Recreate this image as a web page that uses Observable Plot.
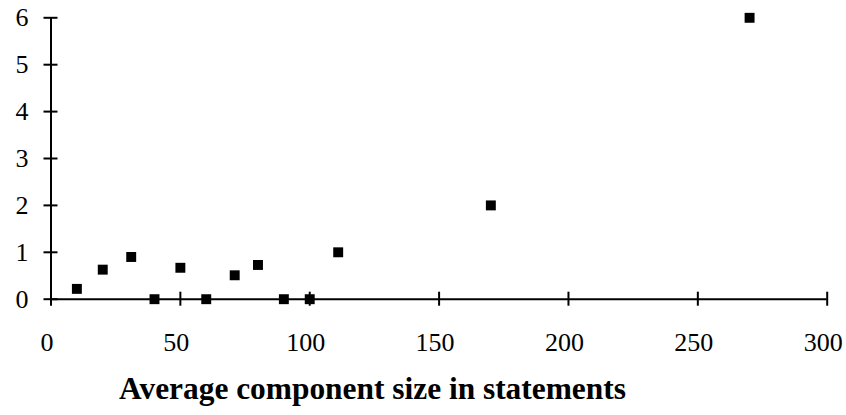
<!DOCTYPE html>
<html>
<head>
<meta charset="utf-8">
<script src="https://cdn.jsdelivr.net/npm/d3@7"></script>
<script src="https://cdn.jsdelivr.net/npm/@observablehq/plot@0.6"></script>
<style>
  html, body { margin: 0; padding: 0; background: #fff; }
  svg text { font-family: "Liberation Serif", "Times New Roman", serif; }
</style>
</head>
<body>
<div id="chart"></div>
<script>
// Data
const componentSize = [10, 20, 31, 40, 50, 60, 71, 80, 90, 100, 111, 170, 270];
const yValues = [0.22, 0.63, 0.9, 0, 0.67, 0, 0.51, 0.73, 0, 0, 1, 2, 6];
const xTicks = [0, 50, 100, 150, 200, 250, 300];
const yTicks = [0, 1, 2, 3, 4, 5, 6];
const xTitle = "Average component size in statements";

const data = componentSize.map((x, i) => ({x, y: yValues[i]}));
const serif = "Liberation Serif";

const chart = Plot.plot({
  width: 846,
  height: 415,
  marginLeft: 50.5,
  marginRight: 19.3,
  marginTop: 17.3,
  marginBottom: 116.3,
  style: {fontFamily: serif, fontSize: "26px", background: "#fff", color: "#000"},
  x: {domain: [0, 300]},
  y: {domain: [0, 6]},
  marks: [
    Plot.ruleX([0], {stroke: "#000", strokeWidth: 2}),
    Plot.ruleY([0], {stroke: "#000", strokeWidth: 2}),
    Plot.axisY({ticks: yTicks, tickSize: 14, dx: 7, tickPadding: 15.5, strokeWidth: 2, label: null,
      fontFamily: serif, fontSize: 26, fill: "#000", tickFormat: d => String(d)}),
    Plot.axisX({ticks: xTicks, tickSize: 14, dy: -7, strokeWidth: 2, label: null, tickFormat: () => ""}),
    Plot.axisX({ticks: xTicks, tickSize: 0, tickPadding: 33.8, dx: -4, label: null,
      fontFamily: serif, fontSize: 26, fill: "#000", tickFormat: d => String(d)}),
    Plot.dot(data, {x: "x", y: "y", symbol: "square", r: 5.6, fill: "#000", stroke: null}),
    Plot.text([xTitle], {frameAnchor: "bottom", dx: -66.6, dy: 99.4, fontFamily: serif, fontSize: 31.4, fontWeight: "bold", fill: "#000"})
  ]
});
document.getElementById("chart").appendChild(chart);
</script>
</body>
</html>
